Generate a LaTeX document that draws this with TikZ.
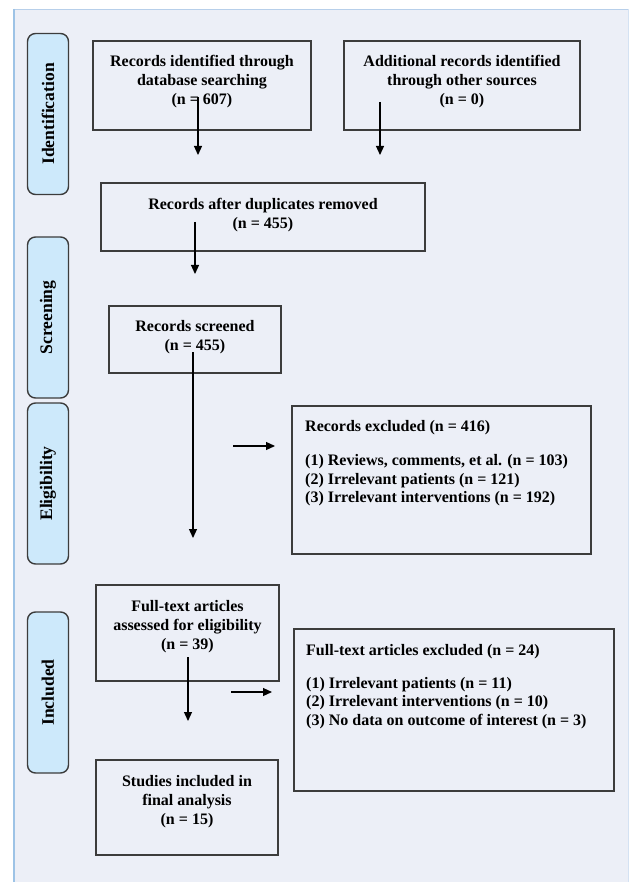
\documentclass[tikz,border=0pt]{standalone}
\usepackage{fontspec}
\setmainfont{Liberation Serif}
\usetikzlibrary{arrows.meta}
\definecolor{bgc}{HTML}{ECEFF7}
\definecolor{tabfill}{HTML}{CDE9FB}
\definecolor{edgec}{HTML}{3C3C3C}
\definecolor{leftb}{HTML}{9DC3E6}
\definecolor{topb}{HTML}{B7CFEA}
\tikzset{
  tabbox/.style={draw=edgec, fill=tabfill, line width=1.4pt, rounded corners=8pt,
    minimum width=41pt, inner sep=0pt},
  tablabel/.style={rotate=90, font=\fontsize{17.6}{19}\selectfont\bfseries, inner sep=0pt},
  stagebox/.style={draw=edgec, line width=1.2pt, inner sep=0pt},
  boxtext/.style={font=\fontsize{16}{18.7}\selectfont\bfseries, align=center, inner sep=0pt},
  listtext/.style={font=\fontsize{16}{18.7}\selectfont\bfseries, align=left, inner sep=0pt, anchor=west},
  arr/.style={draw=black, line width=1.2pt, -{Triangle[length=9pt,width=8pt]}}
}
\begin{document}
\begin{tikzpicture}[x=1pt,y=-1pt]
\useasboundingbox (0,0) rectangle (629,882);
% background panel
\fill[bgc] (13,9) rectangle (629,882);
\draw[topb, line width=1pt] (13,9.5) -- (629,9.5);
\draw[topb!60, line width=0.8pt] (628.5,9) -- (628.5,882);
\draw[leftb, line width=2pt] (14,9) -- (14,882);

% stage tabs
\node[tabbox, minimum height=161pt] (tabid) at (48,114) {};
\node[tablabel] (tabidt) at (tabid.center) {Identification};
\node[tabbox, minimum height=161pt] (tabsc) at (48,317.5) {};
\node[tablabel] (tabsct) at (tabsc.center) {Screening};
\node[tabbox, minimum height=161pt] (tabel) at (48,483.5) {};
\node[tablabel] (tabelt) at (tabel.center) {Eligibility};
\node[tabbox, minimum height=161pt] (tabin) at (48,692.5) {};
\node[tablabel] (tabint) at (tabin.center) {Included};

% boxes
\node[stagebox, minimum width=218pt, minimum height=89pt] (b1) at (202,85.5) {};
\node[boxtext] (b1t) at (202,81.5) {Records identified through\\database searching\\(n = 607)};
\node[stagebox, minimum width=236pt, minimum height=89pt] (b2) at (462,85.5) {};
\node[boxtext] (b2t) at (462,81.5) {Additional records identified\\through other sources\\(n = 0)};
\node[stagebox, minimum width=324pt, minimum height=68pt] (b3) at (263,217) {};
\node[boxtext] (b3t) at (263,215) {Records after duplicates removed\\(n = 455)};
\node[stagebox, minimum width=172pt, minimum height=67pt] (b4) at (195,339.5) {};
\node[boxtext] (b4t) at (195,337.5) {Records screened\\(n = 455)};
\node[stagebox, minimum width=299pt, minimum height=148pt] (b5) at (441.5,480) {};
\node[listtext] (b5t) at (305,463.5) {Records excluded (n = 416)\\[15pt](1) Reviews, comments, et al. (n = 103)\\(2) Irrelevant patients (n = 121)\\(3) Irrelevant interventions (n = 192)};
\node[stagebox, minimum width=183pt, minimum height=96pt] (b6) at (187.5,633) {};
\node[boxtext] (b6t) at (187.5,626.5) {Full-text articles\\assessed for eligibility\\(n = 39)};
\node[stagebox, minimum width=320pt, minimum height=162pt] (b7) at (454,710) {};
\node[listtext] (b7t) at (306,686.5) {Full-text articles excluded (n = 24)\\[14pt](1) Irrelevant patients (n = 11)\\(2) Irrelevant interventions (n = 10)\\(3) No data on outcome of interest (n = 3)};
\node[stagebox, minimum width=182pt, minimum height=95pt] (b8) at (187,807.5) {};
\node[boxtext] (b8t) at (187,801.5) {Studies included in\\final analysis\\(n = 15)};

% arrow end points
\coordinate (a1s) at (198,97);  \coordinate (a1e) at (198,155);
\coordinate (a2s) at (380,102); \coordinate (a2e) at (380,155);
\coordinate (a3s) at (195,222); \coordinate (a3e) at (195,274);
\coordinate (a4s) at (193,352); \coordinate (a4e) at (193,538);
\coordinate (a5s) at (233,446); \coordinate (a5e) at (275,446);
\coordinate (a6s) at (188,657); \coordinate (a6e) at (188,721);
\coordinate (a7s) at (231,692); \coordinate (a7e) at (272,692);

\draw[arr] (a1s) -- (a1e);
\draw[arr] (a2s) -- (a2e);
\draw[arr] (a3s) -- (a3e);
\draw[arr] (a4s) -- (a4e);
\draw[arr] (a5s) -- (a5e);
\draw[arr] (a6s) -- (a6e);
\draw[arr] (a7s) -- (a7e);
\end{tikzpicture}
\end{document}
